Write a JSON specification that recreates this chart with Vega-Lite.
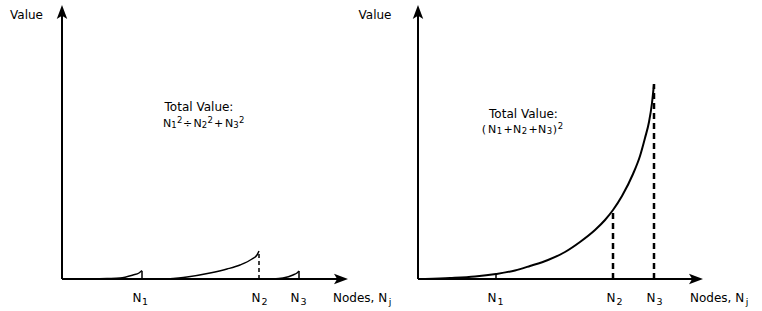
{
  "$schema": "https://vega.github.io/schema/vega-lite/v6.json",
  "width": 762,
  "height": 311,
  "autosize": {"type": "fit", "contains": "padding"},
  "padding": 0,
  "background": "white",
  "config": {"view": {"stroke": null}, "text": {"font": "DejaVu Sans", "color": "black"}},
  "datasets": {
    "axes": [
      {"x": 62, "y": 32, "x2": 62, "y2": 297},
      {"x": 62, "y": 32, "x2": 340, "y2": 32},
      {"x": 418, "y": 32, "x2": 418, "y2": 297},
      {"x": 418, "y": 32, "x2": 695, "y2": 32}
    ],
    "curves": [
      {"seg": "a", "x": 92, "y": 32},
      {"seg": "a", "x": 107, "y": 32.5},
      {"seg": "a", "x": 120, "y": 33},
      {"seg": "a", "x": 133, "y": 36},
      {"seg": "a", "x": 139, "y": 38},
      {"seg": "a", "x": 142, "y": 40.5},
      {"seg": "b", "x": 167, "y": 32},
      {"seg": "b", "x": 187, "y": 34},
      {"seg": "b", "x": 210, "y": 38},
      {"seg": "b", "x": 227, "y": 42},
      {"seg": "b", "x": 240, "y": 46},
      {"seg": "b", "x": 252, "y": 52},
      {"seg": "b", "x": 257, "y": 56},
      {"seg": "b", "x": 259, "y": 60},
      {"seg": "c", "x": 273, "y": 32},
      {"seg": "c", "x": 283, "y": 33},
      {"seg": "c", "x": 293, "y": 36},
      {"seg": "c", "x": 297, "y": 38},
      {"seg": "c", "x": 299, "y": 40}
    ],
    "bigcurve": [
      {"x": 425, "y": 32},
      {"x": 450, "y": 33},
      {"x": 475, "y": 34.5},
      {"x": 496, "y": 37},
      {"x": 515, "y": 40.5},
      {"x": 530, "y": 45},
      {"x": 548, "y": 51},
      {"x": 565, "y": 59},
      {"x": 580, "y": 69},
      {"x": 595, "y": 81},
      {"x": 605, "y": 91},
      {"x": 613, "y": 101},
      {"x": 622, "y": 115},
      {"x": 633, "y": 137},
      {"x": 640, "y": 155},
      {"x": 645, "y": 173},
      {"x": 649, "y": 189},
      {"x": 652, "y": 208},
      {"x": 654, "y": 227}
    ],
    "ticks": [
      {"x": 142, "y": 32, "y2": 40},
      {"x": 299, "y": 32, "y2": 40},
      {"x": 496, "y": 32, "y2": 37}
    ],
    "dashLeft": [
      {"x": 259, "y": 32, "y2": 60}
    ],
    "dashRight": [
      {"x": 613, "y": 32, "y2": 101},
      {"x": 654, "y": 32, "y2": 227}
    ],
    "upArrows": [
      {"x": 62, "y": 299},
      {"x": 418, "y": 299}
    ],
    "rightArrows": [
      {"x": 341, "y": 32},
      {"x": 696, "y": 32}
    ],
    "titleText": [
      {"x": 26.5, "y": 292, "label": "Value"},
      {"x": 375, "y": 292, "label": "Value"},
      {"x": 199, "y": 200, "label": "Total Value:"},
      {"x": 523.5, "y": 193, "label": "Total Value:"},
      {"x": 137, "y": 9.5, "label": "N"},
      {"x": 256, "y": 9.5, "label": "N"},
      {"x": 295, "y": 9.5, "label": "N"},
      {"x": 492, "y": 9.5, "label": "N"},
      {"x": 611, "y": 9.5, "label": "N"},
      {"x": 651, "y": 9.5, "label": "N"}
    ],
    "formulaText": [
      {"x": 167, "y": 184, "label": "N"},
      {"x": 187.5, "y": 184, "label": "÷"},
      {"x": 197.5, "y": 184, "label": "N"},
      {"x": 218.5, "y": 184, "label": "+"},
      {"x": 229, "y": 184, "label": "N"},
      {"x": 484, "y": 178, "label": "("},
      {"x": 492, "y": 178, "label": "N"},
      {"x": 508, "y": 178, "label": "+"},
      {"x": 517, "y": 178, "label": "N"},
      {"x": 533, "y": 178, "label": "+"},
      {"x": 542, "y": 178, "label": "N"},
      {"x": 555, "y": 178, "label": ")"}
    ],
    "formulaScripts": [
      {"x": 174, "y": 183, "label": "1"},
      {"x": 179.8, "y": 188, "label": "2"},
      {"x": 204.5, "y": 183, "label": "2"},
      {"x": 210.3, "y": 188, "label": "2"},
      {"x": 236, "y": 183, "label": "3"},
      {"x": 241.8, "y": 188, "label": "2"},
      {"x": 499.5, "y": 177, "label": "1"},
      {"x": 524.5, "y": 177, "label": "2"},
      {"x": 549.5, "y": 177, "label": "3"},
      {"x": 560.5, "y": 182, "label": "2"}
    ],
    "nodeScripts": [
      {"x": 145, "y": 6, "label": "1"},
      {"x": 264.5, "y": 6, "label": "2"},
      {"x": 303.5, "y": 6, "label": "3"},
      {"x": 500.5, "y": 6, "label": "1"},
      {"x": 619.5, "y": 6, "label": "2"},
      {"x": 659.5, "y": 6, "label": "3"},
      {"x": 390, "y": 6, "label": "j"},
      {"x": 747, "y": 6, "label": "j"}
    ],
    "leftText": [
      {"x": 333, "y": 9.5, "label": "Nodes, N"},
      {"x": 690, "y": 9.5, "label": "Nodes, N"}
    ]
  },
  "encoding": {
    "x": {"field": "x", "type": "quantitative", "scale": {"domain": [0, 762], "nice": false, "zero": false}, "axis": null},
    "y": {"field": "y", "type": "quantitative", "scale": {"domain": [0, 311], "nice": false, "zero": false}, "axis": null}
  },
  "layer": [
    {
      "data": {"name": "axes"},
      "mark": {"type": "rule", "color": "black", "strokeWidth": 2},
      "encoding": {"x2": {"field": "x2"}, "y2": {"field": "y2"}}
    },
    {
      "data": {"name": "curves"},
      "mark": {"type": "line", "color": "black", "strokeWidth": 1.5, "interpolate": "monotone"},
      "encoding": {"detail": {"field": "seg"}, "order": {"field": "x", "type": "quantitative"}}
    },
    {
      "data": {"name": "bigcurve"},
      "mark": {"type": "line", "color": "black", "strokeWidth": 2, "interpolate": "monotone"},
      "encoding": {"order": {"field": "x", "type": "quantitative"}}
    },
    {
      "data": {"name": "ticks"},
      "mark": {"type": "rule", "color": "black", "strokeWidth": 1.5},
      "encoding": {"y2": {"field": "y2"}}
    },
    {
      "data": {"name": "dashLeft"},
      "mark": {"type": "rule", "color": "black", "strokeWidth": 1.5, "strokeDash": [4, 3]},
      "encoding": {"y2": {"field": "y2"}}
    },
    {
      "data": {"name": "dashRight"},
      "mark": {"type": "rule", "color": "black", "strokeWidth": 2.5, "strokeDash": [6, 4]},
      "encoding": {"y2": {"field": "y2"}}
    },
    {
      "data": {"name": "upArrows"},
      "mark": {"type": "point", "filled": true, "color": "black", "opacity": 1, "size": 196, "shape": "M0,-1L0.75,1L0,0.55L-0.75,1Z"}
    },
    {
      "data": {"name": "rightArrows"},
      "mark": {"type": "point", "filled": true, "color": "black", "opacity": 1, "size": 196, "shape": "M1,0L-1,0.75L-0.55,0L-1,-0.75Z"}
    },
    {
      "data": {"name": "titleText"},
      "mark": {"type": "text", "fontSize": 12, "align": "center", "baseline": "alphabetic"},
      "encoding": {"text": {"field": "label"}}
    },
    {
      "data": {"name": "formulaText"},
      "mark": {"type": "text", "fontSize": 11, "align": "center", "baseline": "alphabetic"},
      "encoding": {"text": {"field": "label"}}
    },
    {
      "data": {"name": "formulaScripts"},
      "mark": {"type": "text", "fontSize": 8.5, "align": "center", "baseline": "alphabetic"},
      "encoding": {"text": {"field": "label"}}
    },
    {
      "data": {"name": "nodeScripts"},
      "mark": {"type": "text", "fontSize": 9.5, "align": "center", "baseline": "alphabetic"},
      "encoding": {"text": {"field": "label"}}
    },
    {
      "data": {"name": "leftText"},
      "mark": {"type": "text", "fontSize": 12, "align": "left", "baseline": "alphabetic"},
      "encoding": {"text": {"field": "label"}}
    }
  ]
}
